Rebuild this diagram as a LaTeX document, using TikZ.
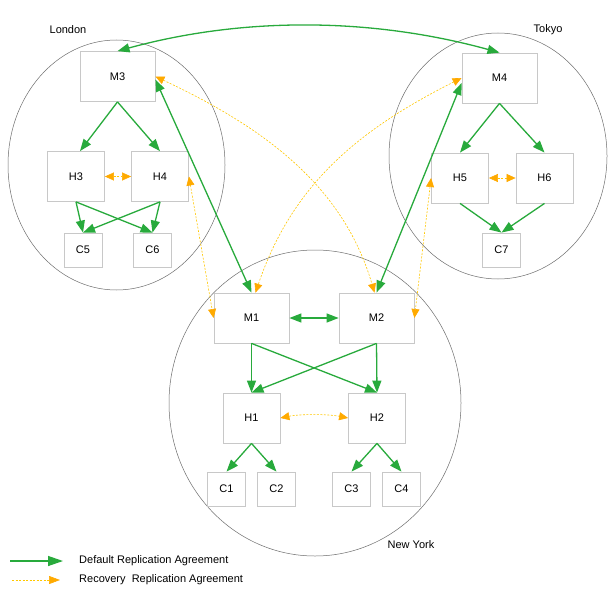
\documentclass[tikz,border=0pt]{standalone}
\usepackage{fontspec}
\setmainfont{Liberation Sans}
\usetikzlibrary{arrows.meta,calc}
\definecolor{grn}{RGB}{40,170,60}
\definecolor{dashc}{RGB}{255,200,0}
\definecolor{headc}{RGB}{255,170,0}
\definecolor{boxc}{RGB}{200,200,200}
\definecolor{ringc}{RGB}{110,110,110}
\begin{document}
\begin{tikzpicture}[x=1pt,y=-1pt,
 box/.style={draw=boxc, line width=0.8pt, fill=white, font=\fontsize{11}{13}\selectfont, inner sep=0pt},
 mbox/.style={box, minimum width=75pt, minimum height=50pt},
 hbox/.style={box, minimum width=57pt, minimum height=50pt},
 cbox/.style={box, minimum width=38pt, minimum height=34pt},
 ring/.style={draw=ringc, line width=0.5pt},
 lbl/.style={font=\fontsize{11}{13}\selectfont, inner sep=0pt},
 gtip/.tip={Triangle[length=12pt,width=9pt]},
 otip/.tip={Triangle[length=9pt,width=8pt,color=headc]},
 rep/.style={draw=grn, line width=1.3pt, -gtip},
 rep2/.style={draw=grn, line width=1.3pt, gtip-gtip},
 rec/.style={draw=dashc, line width=0.6pt, dash pattern=on 2pt off 1.5pt, otip-otip}
]
\useasboundingbox[fill=white] (0,0) rectangle (612,596);

% sites
\draw[ring] (116.5,165) ellipse [x radius=108.5, y radius=125];
\draw[ring] (498,156) ellipse [x radius=109, y radius=123];
\draw[ring] (315,403) ellipse [x radius=146, y radius=153];

\node[lbl] (lon) at (68,30) {London};
\node[lbl] (tok) at (548,30) {Tokyo};
\node[lbl] (ny) at (411,545) {New York};

% London
\node[mbox] (M3) at (117.5,76.5) {M3};
\node[hbox] (H3) at (76,176.5) {H3};
\node[hbox] (H4) at (160,176.5) {H4};
\node[cbox] (C5) at (83,250) {C5};
\node[cbox] (C6) at (152.5,250) {C6};
% Tokyo
\node[mbox] (M4) at (499.5,78) {M4};
\node[hbox] (H5) at (460,178) {H5};
\node[hbox] (H6) at (544.5,178) {H6};
\node[cbox] (C7) at (501.5,250) {C7};
% New York
\node[mbox] (M1) at (251.5,318) {M1};
\node[mbox] (M2) at (376.5,318) {M2};
\node[hbox] (H1) at (251.5,418) {H1};
\node[hbox] (H2) at (377,418) {H2};
\node[cbox] (C1) at (226.5,489) {C1};
\node[cbox] (C2) at (276.5,489) {C2};
\node[cbox] (C3) at (351.5,489) {C3};
\node[cbox] (C4) at (401.5,489) {C4};

% default replication
\draw[rep] (M3.south) -- ([xshift=4pt]H3.north);
\draw[rep] (M3.south) -- (H4.north);
\draw[rep] (H3.south) -- (C5.north);
\draw[rep] (H3.south) -- (C6.north);
\draw[rep] (H4.south) -- (C6.north);
\draw[rep] (H4.south) -- (C5.north);
\draw[rep] (M4.south) -- (H5.north);
\draw[rep] (M4.south) -- (H6.north);
\draw[rep] (H5.south) -- (C7.north);
\draw[rep] (H6.south) -- (C7.north);
\draw[rep] (M1.south) -- (H1.north);
\draw[rep] (M1.south) -- (H2.north);
\draw[rep] (M2.south) -- (H2.north);
\draw[rep] (M2.south) -- (H1.north);
\draw[rep] (H1.south) -- (C1.north);
\draw[rep] (H1.south) -- (C2.north);
\draw[rep] (H2.south) -- (C3.north);
\draw[rep] (H2.south) -- (C4.north);
\draw[rep2] (M1.east) -- (M2.west);
\draw[rep2] ([yshift=-3pt]M3.east) -- (M1.north);
\draw[rep2] ([yshift=-5pt]M4.west) -- (M2.north);
\draw[rep2] (M3.north) .. controls (242,17) and (370,17) .. (M4.north);

% recovery replication
\draw[rec] (H3.east) -- (H4.west);
\draw[rec] (H5.east) -- (H6.west);
\draw[rec] (H1.east) .. controls (300,414) and (328,414) .. (H2.west);
\draw[rec] (H4.east) -- (M1.west);
\draw[rec] (H5.west) -- (M2.east);
\draw[rec] (M3.east) .. controls (263,127) and (343,185) .. ([xshift=-2pt]M2.north);
\draw[rec] (M4.west) .. controls (358,130) and (292,185) .. ([xshift=4pt]M1.north);

% legend
\coordinate (g1) at (10,561);
\coordinate (g2) at (63,561);
\draw[draw=grn, line width=1.3pt, -{Triangle[length=15pt,width=10pt]}] (g1) -- (g2);
\node[lbl, anchor=west] (lg1) at (79,561) {Default Replication Agreement};
\coordinate (o1) at (12,580);
\coordinate (o2) at (60,580);
\draw[draw=dashc, line width=0.6pt, dash pattern=on 2pt off 1.5pt, -{Triangle[length=11pt,width=8pt,color=headc]}] (o1) -- (o2);
\node[lbl, anchor=west] (lg2) at (79,580) {Recovery\ \ Replication Agreement};
\end{tikzpicture}
\end{document}
